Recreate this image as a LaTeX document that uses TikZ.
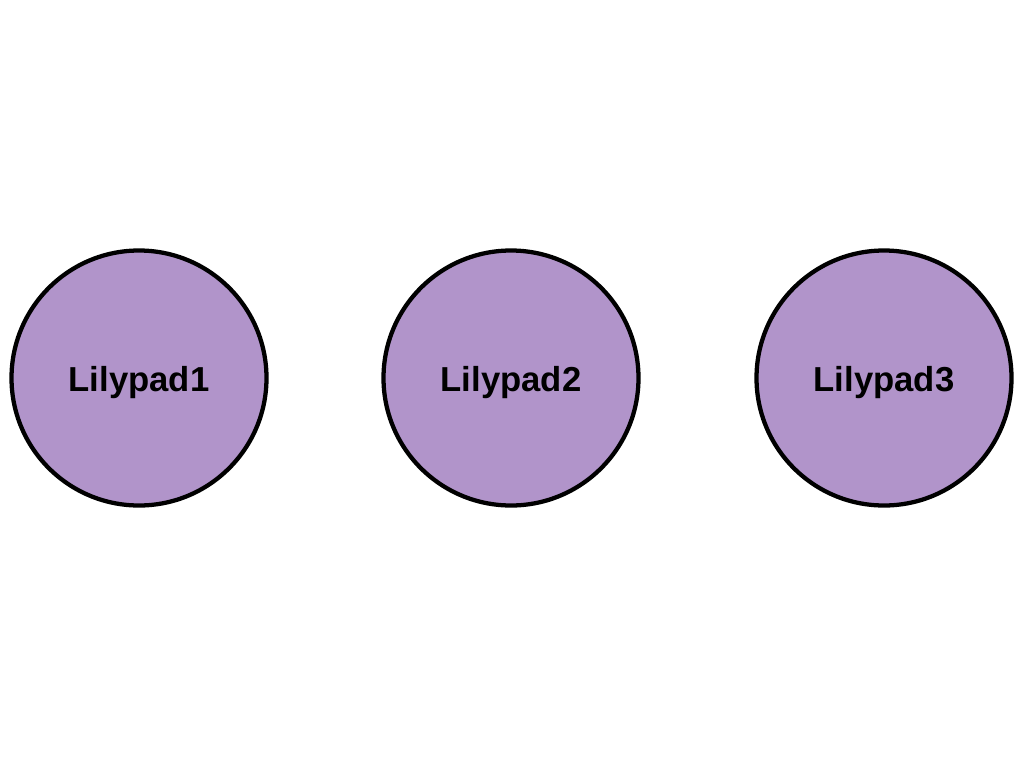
\documentclass[tikz,border=0pt]{standalone}
\usepackage{fontspec}
\setmainfont{Liberation Sans}
\definecolor{pad}{HTML}{B194CA}
\begin{document}
\begin{tikzpicture}[x=0.75pt,y=-0.75pt,
  lily/.style={circle,draw=black,line width=3.2pt,fill=pad,minimum size=191.25pt,inner sep=0pt,
    text height=19.5pt,text depth=0pt,
    font=\fontsize{26}{30}\selectfont\bfseries}]
\useasboundingbox (0,0) rectangle (1024,768);
\node[lily] (p1) at (139,378) {Lilypad1};
\node[lily] (p2) at (511,378) {Lilypad2};
\node[lily] (p3) at (884,378) {Lilypad3};
\end{tikzpicture}
\end{document}
